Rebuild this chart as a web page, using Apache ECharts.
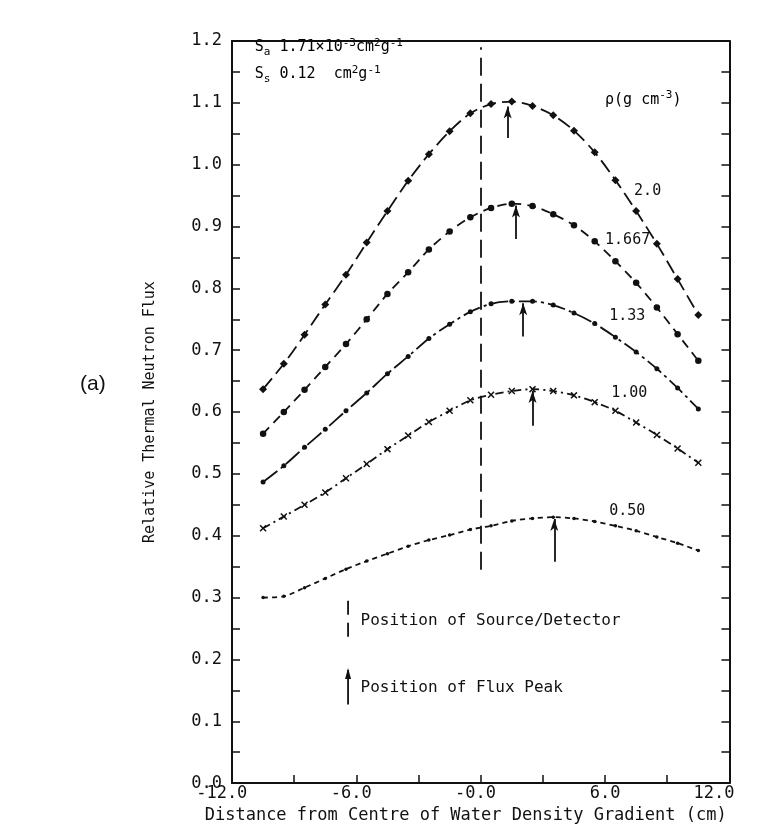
<!DOCTYPE html>
<html>
<head>
<meta charset="utf-8">
<script src="https://cdn.jsdelivr.net/npm/echarts@6/dist/echarts.min.js"></script>
<style>
html,body{margin:0;padding:0;background:#fff;}
#chart{width:758px;height:829px;}
</style>
</head>
<body>
<div id="chart"></div>
<script>
// Sample positions (cm from the centre of the water density gradient)
const xPos = [-10.5,-9.5,-8.5,-7.5,-6.5,-5.5,-4.5,-3.5,-2.5,-1.5,-0.5,0.5,1.5,2.5,3.5,4.5,5.5,6.5,7.5,8.5,9.5,10.5];

// Relative thermal neutron flux for each density (g cm^-3)
const flux200  = [0.637,0.678,0.725,0.774,0.822,0.874,0.925,0.974,1.017,1.054,1.083,1.098,1.102,1.095,1.080,1.055,1.020,0.975,0.925,0.872,0.815,0.757];
const flux1667 = [0.565,0.600,0.636,0.673,0.710,0.750,0.791,0.826,0.863,0.892,0.915,0.930,0.937,0.933,0.920,0.902,0.876,0.844,0.809,0.769,0.726,0.683];
const flux133  = [0.487,0.513,0.543,0.572,0.602,0.631,0.662,0.690,0.719,0.742,0.762,0.775,0.779,0.779,0.773,0.760,0.743,0.721,0.697,0.670,0.639,0.605];
const flux100  = [0.412,0.431,0.450,0.470,0.493,0.516,0.540,0.562,0.584,0.602,0.619,0.628,0.634,0.637,0.634,0.627,0.616,0.602,0.583,0.563,0.541,0.518];
const flux050  = [0.300,0.302,0.316,0.331,0.346,0.359,0.371,0.383,0.393,0.401,0.410,0.416,0.424,0.428,0.430,0.428,0.423,0.416,0.408,0.398,0.388,0.376];

const densityLabels = ['2.0','1.667','1.33','1.00','0.50'];

// Flux peak markers: position, arrow foot, arrow tip
const peakX    = [1.3, 1.7, 2.05, 2.5, 3.55];
const peakFoot = [1.043, 0.880, 0.722, 0.578, 0.358];
const peakTip  = [1.094, 0.934, 0.776, 0.634, 0.427];

// Source/detector position
const sourceX = 0;
const sourceSpan = [0.345, 1.19];

// Axis ticks
const xTickValues = [-12, -6, 0, 6, 12];
const xTickLabels = ['-12.0', '-6.0', '-0.0', '6.0', '12.0'];

const FONT = 'DejaVu Sans Mono';
const INK = '#111';

function pairs(ys) { return xPos.map((x, i) => [x, ys[i]]); }

const crossSymbol = 'path://M0,1.5L1.5,0L5,3.5L8.5,0L10,1.5L6.5,5L10,8.5L8.5,10L5,6.5L1.5,10L0,8.5L3.5,5Z';

const curves = [
  { data: flux200,  symbol: 'diamond',   size: 8,   dash: [14, 6] },
  { data: flux1667, symbol: 'circle',    size: 6.5, dash: [9, 6] },
  { data: flux133,  symbol: 'circle',    size: 5,   dash: [18, 4, 3, 4] },
  { data: flux100,  symbol: crossSymbol, size: 7,   dash: [8, 4, 2, 4] },
  { data: flux050,  symbol: 'circle',    size: 3.5, dash: [5, 4] }
];

const series = curves.map(c => ({
  type: 'line',
  data: pairs(c.data),
  smooth: 0.3,
  symbol: c.symbol,
  symbolSize: c.size,
  showSymbol: true,
  itemStyle: { color: INK },
  lineStyle: { color: INK, width: 1.8, type: c.dash },
  animation: false,
  z: 3
}));

// Flux peak arrows
series.push({
  type: 'line',
  data: [],
  animation: false,
  markLine: {
    silent: true,
    symbol: ['none', 'arrow'],
    symbolSize: [6, 12],
    label: { show: false },
    lineStyle: { color: INK, width: 1.8, type: 'solid' },
    data: peakX.map((x, i) => [{ coord: [x, peakFoot[i]] }, { coord: [x, peakTip[i]] }])
  }
});

// Source/detector line
series.push({
  type: 'line',
  data: [],
  animation: false,
  markLine: {
    silent: true,
    symbol: ['none', 'none'],
    label: { show: false },
    lineStyle: { color: INK, width: 1.8, type: [18, 8] },
    data: [[{ coord: [sourceX, sourceSpan[0]] }, { coord: [sourceX, sourceSpan[1]] }]]
  }
});

const chart = echarts.init(document.getElementById('chart'), null, { renderer: 'canvas' });

const frameLine = { show: true, onZero: false, lineStyle: { color: INK, width: 2 } };
const inTick = { inside: true, length: 8, lineStyle: { color: INK, width: 1.5 } };
const inMinor = { show: true, splitNumber: 2, length: 8, lineStyle: { color: INK, width: 1.5 } };

// width of one glyph of the monospace tick font
const CH = 17 * 0.602;
// blank glyph cells appended so the decimal point sits on its tick
const xPad = [2, 1, 1, 0, 3];

chart.setOption({
  backgroundColor: '#fff',
  animation: false,
  grid: { left: 232, right: 6, top: 41, bottom: 42, containLabel: false },
  xAxis: [
    {
      type: 'value', min: -12, max: 12, interval: 6, position: 'bottom',
      axisLine: frameLine, axisTick: inTick, minorTick: inMinor,
      splitLine: { show: false },
      axisLabel: {
        color: INK, fontFamily: FONT, fontSize: 17, margin: 2,
        formatter: v => {
          const i = xTickValues.indexOf(v);
          if (i < 0) return '';
          return xTickLabels[i] + (xPad[i] ? '{p' + xPad[i] + '| }' : '');
        },
        rich: { p1: { width: CH }, p2: { width: 2 * CH }, p3: { width: 3 * CH } }
      },
      name: 'Distance from Centre of Water Density Gradient (cm)',
      nameLocation: 'middle', nameGap: 14,
      nameTextStyle: { color: INK, fontFamily: FONT, fontSize: 17, padding: [0, 30, 0, 0] }
    },
    {
      type: 'value', min: -12, max: 12, interval: 6, position: 'top',
      axisLine: frameLine,
      axisTick: { show: false }, axisLabel: { show: false }, splitLine: { show: false }
    }
  ],
  yAxis: [
    {
      type: 'value', min: 0, max: 1.2, interval: 0.1, position: 'left',
      axisLine: frameLine, axisTick: inTick, minorTick: inMinor,
      splitLine: { show: false },
      axisLabel: {
        color: INK, fontFamily: FONT, fontSize: 17, margin: 10,
        formatter: v => v.toFixed(1)
      },
      name: 'Relative Thermal Neutron Flux',
      nameLocation: 'middle', nameGap: 74,
      nameTextStyle: { color: INK, fontFamily: FONT, fontSize: 15 }
    },
    {
      type: 'value', min: 0, max: 1.2, interval: 0.1, position: 'right',
      axisLine: frameLine, axisTick: inTick, minorTick: inMinor,
      splitLine: { show: false },
      axisLabel: { show: false }
    }
  ],
  series: series
});

// Text annotations placed in data coordinates
function at(x, y) { return chart.convertToPixel({ xAxisIndex: 0, yAxisIndex: 0 }, [x, y]); }

const txt = { fill: INK, fontFamily: FONT, fontSize: 16 };
const rich = {
  m:   { fontFamily: FONT, fontSize: 15, color: INK },
  sub: { fontFamily: FONT, fontSize: 11, color: INK, padding: [9, 0, 0, 0] },
  sup: { fontFamily: FONT, fontSize: 11, color: INK, padding: [0, 0, 9, 0] }
};

const curveLabelPos = [[7.4, 0.958], [6.0, 0.878], [6.2, 0.755], [6.3, 0.63], [6.2, 0.44]];
const graphics = densityLabels.map((t, i) => {
  const p = at(curveLabelPos[i][0], curveLabelPos[i][1]);
  return { type: 'text', x: p[0], y: p[1], style: { text: t, fill: INK, fontFamily: FONT, fontSize: 15, textVerticalAlign: 'middle' } };
});

const pSa = at(-10.9, 1.19);
const pSs = at(-10.9, 1.146);
graphics.push({ type: 'text', x: pSa[0], y: pSa[1], style: { text: '{m|S}{sub|a}{m| 1.71×10}{sup|-3}{m|cm}{sup|2}{m|g}{sup|-1}', rich: rich, textVerticalAlign: 'middle' } });
graphics.push({ type: 'text', x: pSs[0], y: pSs[1], style: { text: '{m|S}{sub|s}{m| 0.12  cm}{sup|2}{m|g}{sup|-1}', rich: rich, textVerticalAlign: 'middle' } });

const pRho = at(6.0, 1.105);
graphics.push({ type: 'text', x: pRho[0], y: pRho[1], style: { text: '{m|ρ(g cm}{sup|-3}{m|)}', rich: rich, textVerticalAlign: 'middle' } });

// In-plot key
const pK1 = at(-5.8, 0.263);
const pK2 = at(-5.8, 0.154);
graphics.push({ type: 'text', x: pK1[0], y: pK1[1], style: Object.assign({ text: 'Position of Source/Detector', textVerticalAlign: 'middle' }, txt) });
graphics.push({ type: 'text', x: pK2[0], y: pK2[1], style: Object.assign({ text: 'Position of Flux Peak', textVerticalAlign: 'middle' }, txt) });
const d1 = at(-6.4, 0.295), d2 = at(-6.4, 0.231);
graphics.push({ type: 'line', shape: { x1: d1[0], y1: d1[1], x2: d2[0], y2: d2[1] }, style: { stroke: INK, lineWidth: 1.8, lineDash: [14, 8] } });
const a1 = at(-6.4, 0.127), a2 = at(-6.4, 0.183);
graphics.push({ type: 'line', shape: { x1: a1[0], y1: a1[1], x2: a2[0], y2: a2[1] }, style: { stroke: INK, lineWidth: 1.8 } });
graphics.push({ type: 'polygon', shape: { points: [[a2[0], a2[1] - 2], [a2[0] - 3, a2[1] + 9], [a2[0] + 3, a2[1] + 9]] }, style: { fill: INK } });

graphics.push({ type: 'text', x: 80, y: 384, style: { text: '(a)', fill: INK, fontFamily: 'Liberation Sans', fontSize: 21, textVerticalAlign: 'middle' } });

chart.setOption({ graphic: graphics });
</script>
</body>
</html>
